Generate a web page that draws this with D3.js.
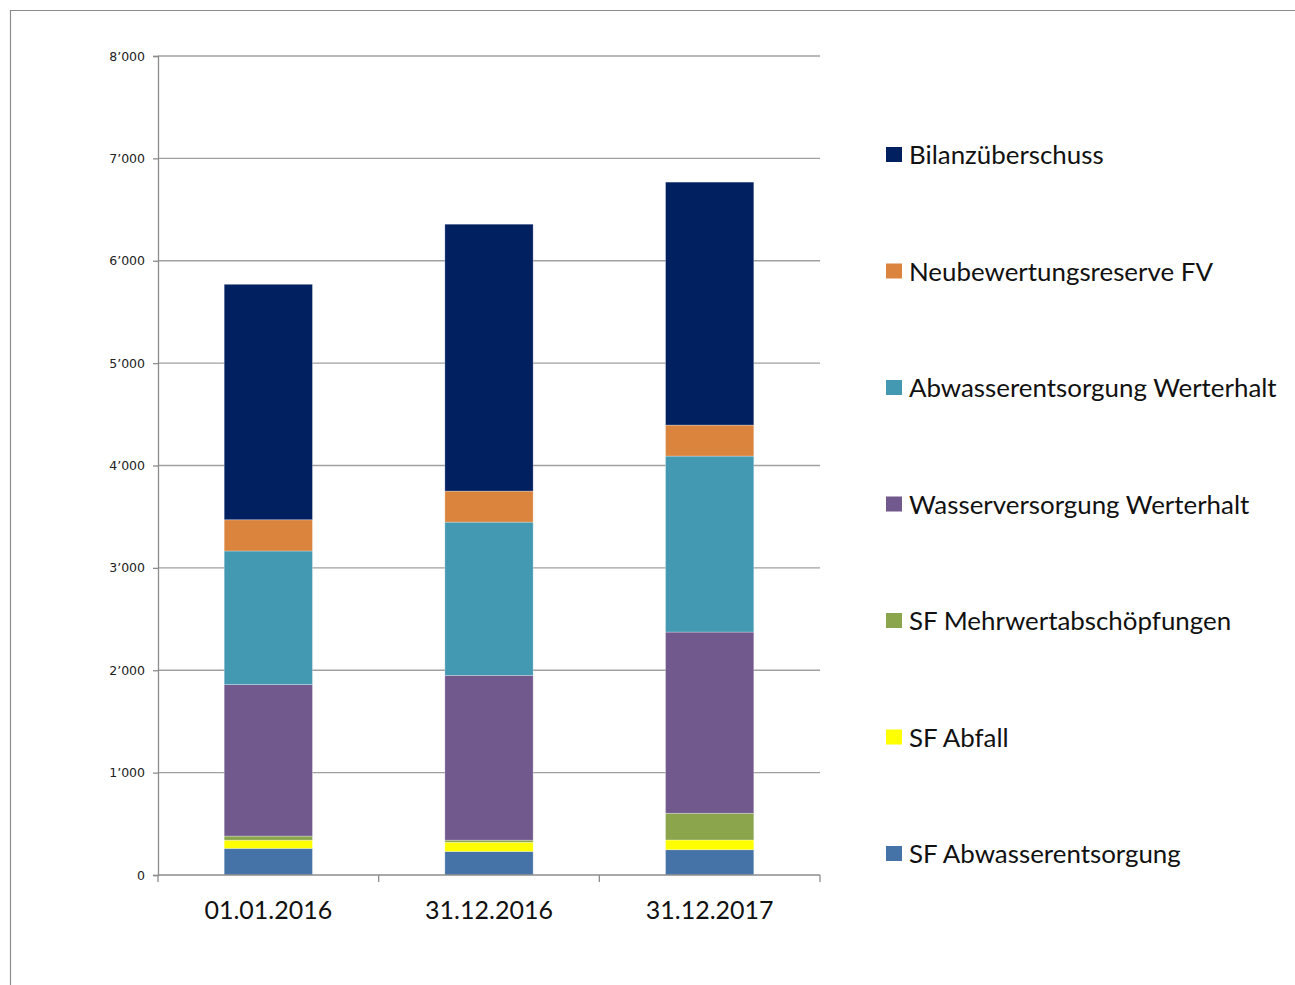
<!DOCTYPE html>
<html>
<head>
<meta charset="utf-8">
<script src="https://cdn.jsdelivr.net/npm/d3@7"></script>
<style>
    body { margin: 0; background: #fff; }
    svg { display: block; }
    .tickLabel { font-family: "DejaVu Sans", Verdana, sans-serif; font-size: 12.5px; fill: #222; }
    .catLabel { font-family: Lato, "Open Sans", sans-serif; font-size: 25px; fill: #111; }
    .legendLabel { font-family: Lato, "Open Sans", sans-serif; font-size: 25.9px; fill: #111; }
</style>
</head>
<body>
<svg id="chart" width="1295" height="985"></svg>
<script>
var dates = ['01.01.2016', '31.12.2016', '31.12.2017'];

// series from bottom to top
var seriesNames = [
    'SF Abwasserentsorgung',
    'SF Abfall',
    'SF Mehrwertabschöpfungen',
    'Wasserversorgung Werterhalt',
    'Abwasserentsorgung Werterhalt',
    'Neubewertungsreserve FV',
    'Bilanzüberschuss'
];
var seriesColors = ['#4573A7', '#FFFF00', '#8BA54D', '#71598E', '#4399B1', '#DB843D', '#002060'];

var sfAbwasser = [260, 230, 247];
var sfAbfall = [80, 90, 95];
var sfMehrwert = [40, 20, 261];
var wasserWerterhalt = [1480, 1610, 1770];
var abwasserWerterhalt = [1305, 1497, 1719];
var neubewertung = [305, 303, 303];
var bilanz = [2300, 2607, 2373];

var yTicks = [0, 1000, 2000, 3000, 4000, 5000, 6000, 7000, 8000];

var values = [sfAbwasser, sfAbfall, sfMehrwert, wasserWerterhalt, abwasserWerterhalt, neubewertung, bilanz];

var rows = dates.map(function(d, i) {
    var row = {date: d};
    seriesNames.forEach(function(s, k) { row[s] = values[k][i]; });
    return row;
});

var svg = d3.select('#chart');

// outer frame
svg.append('path')
    .attr('d', 'M10.5,985 L10.5,10.5 L1295,10.5')
    .attr('fill', 'none')
    .attr('stroke', '#8c8c8c')
    .attr('stroke-width', 1.2);

var plotLeft = 158, plotRight = 820, plotTop = 56, plotBottom = 875;

var x = d3.scaleBand().domain(dates).range([plotLeft, plotRight]).paddingInner(0.6).paddingOuter(0.3);
var y = d3.scaleLinear().domain([0, 8000]).range([plotBottom, plotTop]);

// gridlines
svg.append('g').selectAll('line')
    .data(yTicks.slice(1))
    .enter().append('line')
    .attr('x1', plotLeft).attr('x2', plotRight)
    .attr('y1', function(d) { return y(d); })
    .attr('y2', function(d) { return y(d); })
    .attr('stroke', '#a0a0a0')
    .attr('stroke-width', 1.3);

var stack = d3.stack().keys(seriesNames);
var layers = stack(rows);

svg.append('g').selectAll('g')
    .data(layers)
    .enter().append('g')
    .attr('fill', function(d, i) { return seriesColors[i]; })
    .selectAll('rect')
    .data(function(d) { return d; })
    .enter().append('rect')
    .attr('x', function(d) { return x(d.data.date); })
    .attr('width', x.bandwidth())
    .attr('y', function(d) { return y(d[1]); })
    .attr('height', function(d) { return y(d[0]) - y(d[1]); })
    .attr('stroke', 'rgba(255,255,255,0.35)')
    .attr('stroke-width', 0.8);

// y axis
var yAxis = d3.axisLeft(y)
    .tickValues(yTicks)
    .tickSize(5)
    .tickPadding(8)
    .tickFormat(function(d) { return d3.format(',')(d).replace(/,/g, '\u2019'); });

var yg = svg.append('g').attr('transform', 'translate(' + plotLeft + ',0)').call(yAxis);
yg.select('.domain').attr('stroke', '#8c8c8c').attr('stroke-width', 1.3);
yg.selectAll('.tick line').attr('stroke', '#8c8c8c').attr('stroke-width', 1.3);
yg.selectAll('.tick text').attr('class', 'tickLabel');
yg.attr('font-family', null).attr('font-size', null);

// x axis: ticks at band boundaries
var xg = svg.append('g').attr('transform', 'translate(0,' + plotBottom + ')');
xg.append('line')
    .attr('x1', plotLeft).attr('x2', plotRight)
    .attr('stroke', '#8c8c8c').attr('stroke-width', 1.3);
var bounds = d3.range(dates.length + 1).map(function(i) { return plotLeft + i * (plotRight - plotLeft) / dates.length; });
xg.selectAll('.xtick')
    .data(bounds)
    .enter().append('line')
    .attr('x1', function(d) { return d; }).attr('x2', function(d) { return d; })
    .attr('y1', 0).attr('y2', 7)
    .attr('stroke', '#8c8c8c').attr('stroke-width', 1.3);
xg.selectAll('.catLabel')
    .data(dates)
    .enter().append('text')
    .attr('class', 'catLabel')
    .attr('x', function(d) { return x(d) + x.bandwidth() / 2; })
    .attr('y', 44)
    .attr('text-anchor', 'middle')
    .text(function(d) { return d; });

// legend, top entry is the top series
var legendOrder = seriesNames.slice().reverse();
var legend = svg.append('g').selectAll('g')
    .data(legendOrder)
    .enter().append('g')
    .attr('transform', function(d, i) { return 'translate(886,' + (155 + i * 116.5) + ')'; });

legend.append('rect')
    .attr('x', 0).attr('y', -8)
    .attr('width', 16).attr('height', 15)
    .attr('fill', function(d) { return seriesColors[seriesNames.indexOf(d)]; });

legend.append('text')
    .attr('class', 'legendLabel')
    .attr('x', 23)
    .attr('y', 9)
    .text(function(d) { return d; });
</script>
</body>
</html>
